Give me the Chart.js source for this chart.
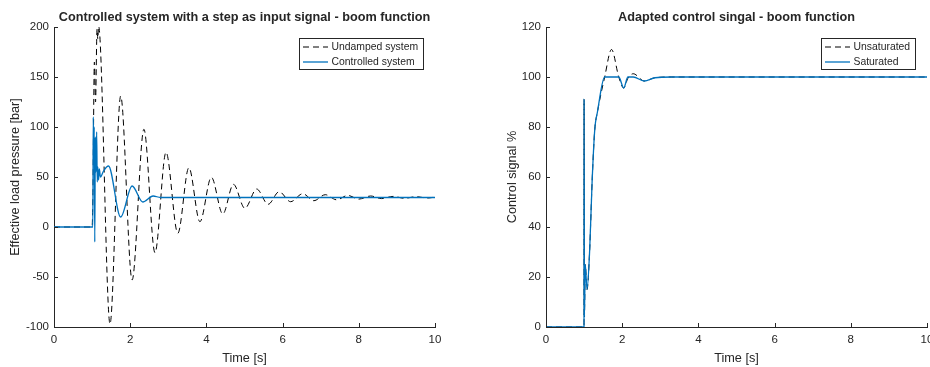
<!DOCTYPE html>
<html>
<head>
<meta charset="utf-8">
<title>Boom function</title>
<script src="https://cdn.jsdelivr.net/npm/chart.js@4.4.1/dist/chart.umd.min.js"></script>
<style>
  body { margin: 0; background: #fff; }
  #wrap { position: relative; width: 930px; height: 367px; overflow: hidden; }
  canvas { position: absolute; top: 0; }
</style>
</head>
<body>
<div id="wrap">
  <canvas id="pressureChart" width="490" height="367" style="left:0"></canvas>
  <canvas id="signalChart" width="440" height="367" style="left:490px"></canvas>
</div>
<script>
// Datos
const timeTicks = [0, 2, 4, 6, 8, 10];
const pressureTicks = [-100, -50, 0, 50, 100, 150, 200];
const signalTicks = [0, 20, 40, 60, 80, 100, 120];

// Izquierda: presion de carga
const undampedTime = [0, 1.0, 1.02, 1.06, 1.09, 1.13, 1.15, 1.17, 1.47, 1.75, 2.05, 2.36, 2.65, 2.94, 3.25, 3.54, 3.83, 4.13,
  4.43, 4.71, 5.01, 5.32, 5.62, 5.91, 6.21, 6.53, 6.82, 7.12, 7.42, 7.71, 8.0, 8.31, 8.6, 8.9, 9.2, 9.5, 9.8, 10];
const undampedValue = [0, 0, 30, 165, 125, 198, 188, 201, -97, 131, -53, 97.7, -25.7, 74.7, -6.3, 59.3, 5.3, 49.7,
  13, 42.7, 18.7, 38, 22.7, 35.3, 25.3, 33.3, 26.3, 32.3, 27.2, 31.6, 27.9, 31, 28.4, 30.6, 28.7, 30.3, 29.0, 29.9];

const controlledTime = [0, 1.02, 1.03, 1.045, 1.055, 1.07, 1.085, 1.1, 1.12, 1.135, 1.15, 1.17, 1.19, 1.22, 1.3, 1.43,
  1.75, 2.05, 2.33, 2.6, 2.8, 10];
const controlledValue = [0, 0, 110, 70, 100, -15, 90, 55, 95, 45, 60, 47, 58, 50, 56, 61,
  10, 41, 25, 31, 29.5, 29.5];

// Derecha: senal de control
const unsatTime = [0, 0.998, 1.0, 1.008, 1.03, 1.077, 1.147, 1.21, 1.28, 1.35, 1.54, 1.72, 1.91, 2.04, 2.15, 2.29, 2.58, 2.86, 3.3, 10];
const unsatValue = [0, 0, 91, 4, 25, 15, 31, 58, 79, 86, 100, 111, 100, 95.6, 99.5, 101.3, 98.4, 99.7, 100, 100];

const satTime = [0, 0.998, 1.0, 1.008, 1.03, 1.077, 1.147, 1.21, 1.28, 1.35, 1.54, 1.91, 2.04, 2.15, 2.29, 2.58, 2.86, 3.3, 10];
const satValue = [0, 0, 91, 4, 25, 15, 31, 58, 79, 86, 100, 100, 95.6, 100, 100, 98.4, 99.7, 100, 100];

const axisColor = '#262626';
const blue = '#0072BD';
const fontFamily = '"Liberation Sans", Arial, Helvetica, sans-serif';

function toPoints(xs, ys) {
  return xs.map((x, i) => ({ x: x, y: ys[i] }));
}

// Plugin para dibujar ejes estilo MATLAB, titulos y leyenda
function matlabPlugin(cfg) {
  return {
    id: 'matlabStyle',
    afterDraw(chart) {
      const ctx = chart.ctx;
      const area = chart.chartArea;
      const xs = chart.scales.x;
      const ys = chart.scales.y;
      ctx.save();

      // marcas hacia dentro
      ctx.strokeStyle = axisColor;
      ctx.lineWidth = 1;
      ctx.beginPath();
      xs.ticks.forEach(t => {
        const px = Math.round(xs.getPixelForValue(t.value)) + 0.5;
        ctx.moveTo(px, area.bottom);
        ctx.lineTo(px, area.bottom - 4);
      });
      ys.ticks.forEach(t => {
        const py = Math.round(ys.getPixelForValue(t.value)) + 0.5;
        ctx.moveTo(area.left, py);
        ctx.lineTo(area.left + 4, py);
      });
      ctx.stroke();

      // titulo y etiquetas
      const cx = (area.left + area.right) / 2;
      ctx.fillStyle = axisColor;
      ctx.textAlign = 'center';
      ctx.textBaseline = 'middle';
      ctx.font = 'bold 12.7px ' + fontFamily;
      ctx.fillText(cfg.title, cx, 17);
      ctx.font = '12.7px ' + fontFamily;
      ctx.fillText(cfg.xLabel, cx, 358);
      ctx.save();
      ctx.translate(cfg.yLabelX, (area.top + area.bottom) / 2);
      ctx.rotate(-Math.PI / 2);
      ctx.fillText(cfg.yLabel, 0, 0);
      ctx.restore();

      // leyenda
      const lx = cfg.legend.left, lw = cfg.legend.width;
      const ly = 38, lh = 31;
      ctx.fillStyle = '#fff';
      ctx.fillRect(lx, ly, lw, lh);
      ctx.strokeStyle = axisColor;
      ctx.strokeRect(lx + 0.5, ly + 0.5, lw, lh);
      ctx.font = '10.4px ' + fontFamily;
      ctx.textAlign = 'left';
      chart.data.datasets.forEach((ds, i) => {
        const ry = ly + 9 + i * 15;
        ctx.beginPath();
        ctx.strokeStyle = ds.borderColor;
        ctx.lineWidth = ds.borderWidth;
        ctx.setLineDash(ds.borderDash || []);
        ctx.moveTo(lx + 4, ry);
        ctx.lineTo(lx + 29, ry);
        ctx.stroke();
        ctx.setLineDash([]);
        ctx.fillStyle = axisColor;
        ctx.fillText(ds.label, lx + 32.5, ry);
      });
      ctx.restore();
    }
  };
}

function buildChart(canvasId, datasets, yMin, yMax, yTicks, yWidth, rightPad, cfg) {
  const ctx = document.getElementById(canvasId).getContext('2d');
  return new Chart(ctx, {
    type: 'line',
    data: { datasets: datasets },
    options: {
      responsive: false,
      animation: false,
      devicePixelRatio: 1,
      layout: { padding: { top: 27, right: rightPad, left: 0, bottom: 0 } },
      elements: { point: { radius: 0 }, line: { cubicInterpolationMode: 'monotone' } },
      plugins: { legend: { display: false }, tooltip: { enabled: false } },
      scales: {
        x: {
          type: 'linear',
          min: 0,
          max: 10,
          grid: { display: false, drawTicks: false },
          border: { display: true, color: axisColor, width: 1 },
          afterBuildTicks: scale => { scale.ticks = timeTicks.map(v => ({ value: v })); },
          afterFit: scale => { scale.height = 40; scale.paddingLeft = 0; scale.paddingRight = 0; },
          ticks: { color: axisColor, padding: 6, maxRotation: 0, font: { family: fontFamily, size: 11.5 } }
        },
        y: {
          type: 'linear',
          min: yMin,
          max: yMax,
          grid: { display: false, drawTicks: false },
          border: { display: true, color: axisColor, width: 1 },
          afterBuildTicks: scale => { scale.ticks = yTicks.map(v => ({ value: v })); },
          afterFit: scale => { scale.width = yWidth; scale.paddingTop = 0; scale.paddingBottom = 0; },
          ticks: { color: axisColor, padding: 5, font: { family: fontFamily, size: 11.5 } }
        }
      }
    },
    plugins: [matlabPlugin(cfg)]
  });
}

document.addEventListener('DOMContentLoaded', () => {
  buildChart('pressureChart', [
    {
      label: 'Undamped system',
      data: toPoints(undampedTime, undampedValue),
      borderColor: '#000',
      borderWidth: 1,
      borderDash: [6, 4],
      order: 1
    },
    {
      label: 'Controlled system',
      data: toPoints(controlledTime, controlledValue),
      borderColor: blue,
      borderWidth: 1.3,
      order: 0
    }
  ], -100, 200, pressureTicks, 54, 55, {
    title: 'Controlled system with a step as input signal - boom function',
    xLabel: 'Time [s]',
    yLabel: 'Effective load pressure [bar]',
    yLabelX: 15,
    legend: { left: 299, width: 124 }
  });

  buildChart('signalChart', [
    {
      label: 'Unsaturated',
      data: toPoints(unsatTime, unsatValue),
      borderColor: '#000',
      borderWidth: 1,
      borderDash: [6, 4],
      order: 1
    },
    {
      label: 'Saturated',
      data: toPoints(satTime, satValue),
      borderColor: blue,
      borderWidth: 1.3,
      order: 0
    }
  ], 0, 120, signalTicks, 56, 3, {
    title: 'Adapted control singal - boom function',
    xLabel: 'Time [s]',
    yLabel: 'Control signal %',
    yLabelX: 22,
    legend: { left: 331, width: 94 }
  });
});
</script>
</body>
</html>
